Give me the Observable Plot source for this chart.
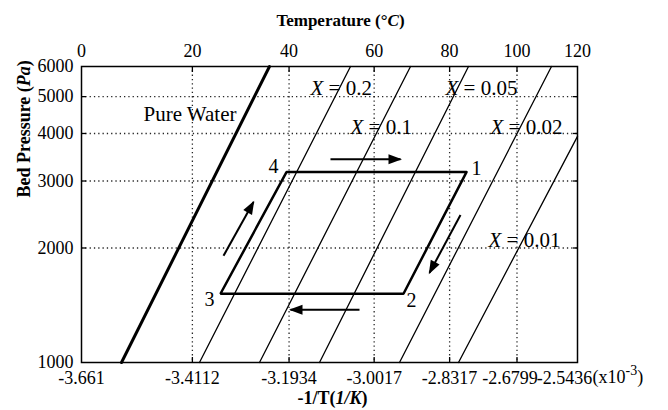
<!DOCTYPE html>
<html><head><meta charset="utf-8">
<script src="https://cdn.jsdelivr.net/npm/d3@7"></script>
<script src="https://cdn.jsdelivr.net/npm/@observablehq/plot@0.6"></script>
<style>
body{margin:0;background:#fff;}
#chart svg{display:block;}
</style>
</head><body><div id="chart"></div>
<script>
// ---- data ----
const xTicks = [-3.661, -3.4112, -3.1934, -3.0017, -2.8317, -2.6799, -2.5436];
const xTickLabels = ["-3.661", "-3.4112", "-3.1934", "-3.0017", "-2.8317", "-2.6799", "-2.5436"];
const tempLabels = ["0", "20", "40", "60", "80", "100", "120"];
const yTicks = [1000, 2000, 3000, 4000, 5000, 6000];

const isoNames = ["Pure Water", "X = 0.2", "X = 0.1", "X = 0.05", "X = 0.02", "X = 0.01"];
const isoXLow  = [-3.5709, -3.3952, -3.2600, -3.1248, -2.9446, -2.8117];
const isoPLow  = [1000, 1000, 1000, 1000, 1000, 1000];
const isoXHigh = [-3.2375, -3.0550, -2.9198, -2.7892, -2.6022, -2.5436];
const isoPHigh = [6000, 6000, 6000, 6000, 6000, 3930];

const labelX = [-3.5213, -3.1451, -3.0550, -2.8410, -2.7396, -2.7441];
const labelP = [4492, 5254, 4153, 5254, 4153, 2101];

const cycleNames = ["1", "2", "3", "4"];
const cycleX = [-2.7937, -2.9356, -3.3479, -3.1992];
const cycleP = [3166, 1516, 1516, 3166];
const cycleLabelX = [-2.7711, -2.9176, -3.3726, -3.2285];
const cycleLabelP = [3243, 1454, 1463, 3282];

const arrowX1 = [-3.1001, -2.8072, -3.0347, -3.3411];
const arrowP1 = [3424, 2442, 1377, 1907];
const arrowX2 = [-2.9424, -2.8770, -3.1902, -3.2735];
const arrowP2 = [3424, 1721, 1377, 2641];

// ---- tables ----
const isoLines = isoNames.flatMap((n, i) => [
  {name: n, x: isoXLow[i], p: isoPLow[i]},
  {name: n, x: isoXHigh[i], p: isoPHigh[i]}
]);
const isoLabelData = isoNames.map((n, i) => ({name: n, x: labelX[i], p: labelP[i]}));
const cyclePts = cycleNames.map((n, i) => ({name: n, x: cycleX[i], p: cycleP[i]}));
const cyclePath = [...cyclePts, cyclePts[0]];
const cycleLabels = cycleNames.map((n, i) => ({name: n, x: cycleLabelX[i], p: cycleLabelP[i]}));
const arrows = arrowX1.map((x, i) => ({x1: x, p1: arrowP1[i], x2: arrowX2[i], p2: arrowP2[i]}));

const bottomFmt = new Map(xTicks.map((v, i) => [v, xTickLabels[i]]));
const topFmt = new Map(xTicks.map((v, i) => [v, tempLabels[i]]));

const gridStyle = {stroke: "#000", strokeOpacity: 0.85, strokeWidth: 1.3, strokeDasharray: "1.3,3"};

const svg = Plot.plot({
  width: 668, height: 410,
  marginLeft: 81, marginRight: 91, marginTop: 66, marginBottom: 48,
  style: {fontFamily: "'Liberation Serif', 'Times New Roman', serif", fontSize: "18px", color: "#000", background: "#fff"},
  x: {domain: [xTicks[0], xTicks[xTicks.length - 1]]},
  y: {type: "log", domain: [yTicks[0], yTicks[yTicks.length - 1]]},
  marks: [
    Plot.gridX(xTicks.slice(1, -1), gridStyle),
    Plot.gridY(yTicks.slice(1, -1), gridStyle),
    Plot.axisX(xTicks, {anchor: "bottom", tickSize: 0, tickPadding: 9, tickFormat: d => bottomFmt.get(d), label: null}),
    Plot.axisX(xTicks, {anchor: "top", tickSize: 0, tickPadding: 10, tickFormat: d => topFmt.get(d), label: null}),
    Plot.axisY(yTicks, {anchor: "left", tickSize: 0, tickPadding: 8, tickFormat: d3.format("d"), label: null}),
    Plot.axisX(xTicks.slice(1, -1), {anchor: "top", tickSize: -5, tickFormat: () => "", label: null, strokeWidth: 1.3}),
    Plot.axisX(xTicks.slice(1, -1), {anchor: "bottom", tickSize: -5, tickFormat: () => "", label: null, strokeWidth: 1.3}),
    Plot.axisY(yTicks.slice(1, -1), {anchor: "right", tickSize: -5, tickFormat: () => "", label: null, strokeWidth: 1.3}),
    Plot.axisY(yTicks.slice(1, -1), {anchor: "left", tickSize: -5, tickFormat: () => "", label: null, strokeWidth: 1.3}),
    Plot.line(isoLines.filter(d => d.name !== "Pure Water"), {x: "x", y: "p", z: "name", stroke: "#000", strokeWidth: 1.3}),
    Plot.line(isoLines.filter(d => d.name === "Pure Water"), {x: "x", y: "p", stroke: "#000", strokeWidth: 3}),
    Plot.line(cyclePath, {x: "x", y: "p", stroke: "#000", strokeWidth: 2.5, strokeLinejoin: "miter"}),
    Plot.link(arrows, {x1: "x1", y1: "p1", x2: "x2", y2: "p2", stroke: "#000", strokeWidth: 2, markerEnd: "arrow"}),
    Plot.text(isoLabelData, {x: "x", y: "p", text: "name", textAnchor: "start", lineAnchor: "middle", fontSize: 21}),
    Plot.text(cycleLabels, {x: "x", y: "p", text: "name", textAnchor: "middle", lineAnchor: "middle", fontSize: 20}),
    Plot.frame({stroke: "#000", strokeWidth: 1.5}),
    Plot.text(["Temperature (°C)"], {frameAnchor: "top", dx: 11, dy: -46, fontWeight: "bold", fontSize: 17, lineAnchor: "middle"}),
    Plot.text(["-1/T(1/K)"], {frameAnchor: "bottom", dx: 3, dy: 36, fontWeight: "bold", fontSize: 18, lineAnchor: "middle"}),
    Plot.text(["Bed Pressure (Pa)"], {frameAnchor: "left", dx: -57, dy: -17, rotate: -90, fontWeight: "bold", fontSize: 18, lineAnchor: "middle"}),
    Plot.text(["(x10-3)"], {frameAnchor: "bottom-right", dx: 15, dy: 15, textAnchor: "start", lineAnchor: "middle", fontSize: 18})
  ]
});
document.getElementById("chart").appendChild(svg);

// ---- post-processing: rich text and filled arrowheads ----
function richText(full, html) {
  svg.querySelectorAll("text").forEach(t => {
    if (t.textContent === full) t.innerHTML = html;
  });
}
richText("Temperature (°C)", 'Temperature (°<tspan font-style="italic">C</tspan>)');
richText("-1/T(1/K)", '-1/T(<tspan font-style="italic">1/K</tspan>)');
richText("Bed Pressure (Pa)", 'Bed Pressure (<tspan font-style="italic">Pa</tspan>)');
richText("(x10-3)", '(x10<tspan dy="-8" font-size="14">-3</tspan><tspan dy="8">)</tspan>');
isoNames.slice(1).forEach(n => richText(n, '<tspan font-style="italic">X</tspan>' + n.slice(1)));

const shifts = {"-2.6799": -7, "-2.5436": -13};
svg.querySelectorAll("text").forEach(t => {
  const s = shifts[t.textContent];
  if (s !== undefined) t.setAttribute("transform", (t.getAttribute("transform") || "") + ` translate(${s},0)`);
});

svg.querySelectorAll("marker").forEach(m => {
  m.setAttribute("viewBox", "-14 -6 17 12");
  m.setAttribute("markerUnits", "userSpaceOnUse");
  m.setAttribute("markerWidth", 17);
  m.setAttribute("markerHeight", 12);
  m.setAttribute("fill", "#000");
  m.setAttribute("stroke", "none");
  m.innerHTML = '<path d="M-12,-5L1.5,0L-12,5Z"/>';
});
</script>
</body></html>
